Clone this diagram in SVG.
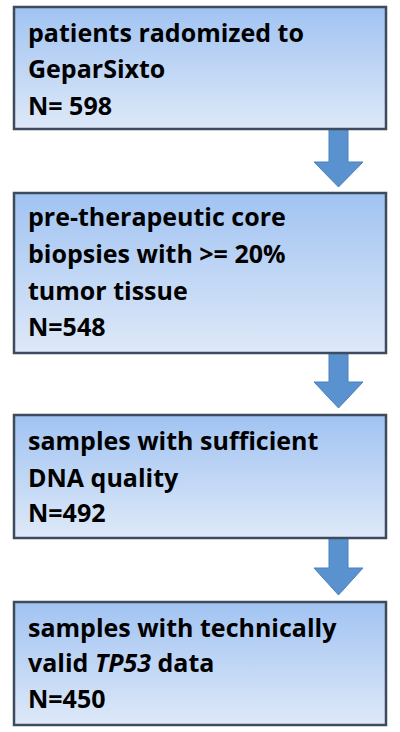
<svg xmlns="http://www.w3.org/2000/svg" width="400" height="732" viewBox="0 0 400 732">
<defs>
<linearGradient id="g" x1="0" y1="0" x2="0" y2="1">
<stop offset="0" stop-color="#a1c3f2"/>
<stop offset="1" stop-color="#dee9f8"/>
</linearGradient>
<style>
.box{fill:url(#g);stroke:#3d4b5e;stroke-width:2.5}
.t{font-family:"Open Sans",Lato,sans-serif;font-weight:bold;font-size:25px;fill:#000}
.arr{fill:#5a92cf;stroke:#4a80bf;stroke-width:1}
</style>
</defs>
<rect width="400" height="732" fill="#fff"/>
<g id="connectors">
<path class="arr" d="M329,129 H348 V162 H363 L338.5,187 L314,162 H329 Z"/>
<path class="arr" d="M329,353 H348 V382 H363 L338.5,408 L314,382 H329 Z"/>
<path class="arr" d="M329,538 H348 V568 H363 L338.5,595 L314,568 H329 Z"/>
</g>
<g id="node1">
<rect class="box" x="14" y="7" width="372" height="122"/>
<text class="t" x="28" y="42">patients radomized to</text>
<text class="t" x="28" y="78">GeparSixto</text>
<text class="t" x="28" y="115">N= 598</text>
</g>
<g id="node2">
<rect class="box" x="14" y="193" width="372" height="160"/>
<text class="t" x="28" y="226">pre-therapeutic core</text>
<text class="t" x="28" y="263">biopsies with &gt;= 20%</text>
<text class="t" x="28" y="300">tumor tissue</text>
<text class="t" x="28" y="336">N=548</text>
</g>
<g id="node3">
<rect class="box" x="14" y="415" width="372" height="123"/>
<text class="t" x="28" y="450">samples with sufficient</text>
<text class="t" x="28" y="487">DNA quality</text>
<text class="t" x="28" y="522">N=492</text>
</g>
<g id="node4">
<rect class="box" x="14" y="602" width="372" height="123"/>
<text class="t" x="28" y="637">samples with technically</text>
<text class="t" x="28" y="672">valid <tspan font-style="italic">TP53</tspan> data</text>
<text class="t" x="28" y="708">N=450</text>
</g>
</svg>
